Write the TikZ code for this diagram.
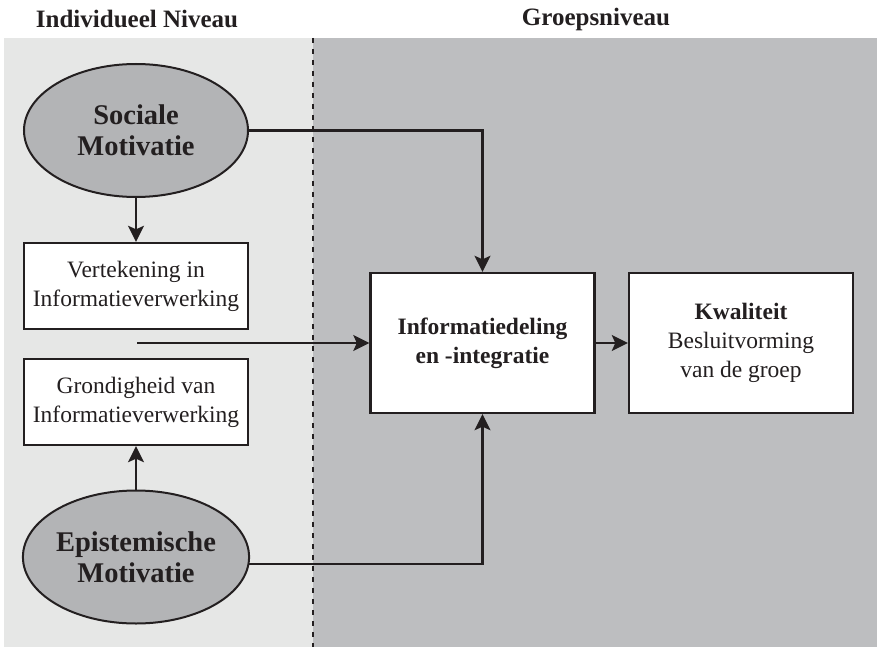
\documentclass[tikz,border=0pt]{standalone}
\usepackage{fontspec}
\setmainfont{Liberation Serif}
\usetikzlibrary{arrows.meta,calc,shapes.geometric}
\definecolor{indivbg}{HTML}{E6E7E6}
\definecolor{groupbg}{HTML}{BDBEC0}
\definecolor{ovalfill}{HTML}{B3B4B6}
\definecolor{ink}{HTML}{231F20}
\tikzset{
  motive/.style={ellipse, draw=ink, line width=2pt, fill=ovalfill,
    minimum width=224pt, minimum height=133pt, inner sep=0pt, align=center,
    text=ink, font=\bfseries\fontsize{28.5}{31}\selectfont},
  procbox/.style={rectangle, draw=ink, line width=2.4pt, fill=white,
    minimum width=224pt, minimum height=86pt, inner sep=0pt, align=center,
    text=ink, font=\fontsize{23.5}{29}\selectfont},
  groupbox/.style={procbox, minimum height=140pt},
  flow/.style={draw=ink, line width=2.1pt,
    -{Stealth[length=16pt,width=16pt,inset=3.5pt]}},
  heading/.style={text=ink, font=\bfseries\fontsize{25}{30}\selectfont}
}
\begin{document}
\begin{tikzpicture}[x=1pt,y=-1pt]
  \useasboundingbox (0,0) rectangle (877,647);
  % background panels
  \fill[indivbg] (4,38) rectangle (313,647);
  \fill[groupbg] (313,38) rectangle (877,647);
  \draw[ink, line width=1.5pt, dash pattern=on 5pt off 6pt] (313,38) -- (313,647);
  % headings
  \node[heading] (hind) at (137,19) {Individueel Niveau};
  \node[heading] (hgrp) at (596,19) {Groepsniveau};
  % individual level
  \node[motive] (sm) at (136,130.5) {Sociale\\Motivatie};
  \node[procbox] (vi) at (136,286) {Vertekening in\\Informatieverwerking};
  \node[procbox] (gi) at (136,402) {Grondigheid van\\Informatieverwerking};
  \node[motive] (em) at (136,557) {Epistemische\\Motivatie};
  % group level
  \node[groupbox] (id) at (482.5,343) {\bfseries Informatiedeling\\\bfseries en -integratie};
  \node[groupbox] (kw) at (741,343) {\bfseries Kwaliteit\\Besluitvorming\\van de groep};
  % connectors
  \coordinate (inleft) at (137,343);
  \coordinate (emout) at ($(em.east)+(-0.6,7)$);
  \draw[flow] (sm) -- (vi);
  \draw[flow] (em) -- (gi);
  \draw[flow] (sm.east) -| (id.north);
  \draw[flow] (emout) -| (id.south);
  \draw[flow] (inleft) -- (id.west);
  \draw[flow] (id) -- (kw);
\end{tikzpicture}
\end{document}
